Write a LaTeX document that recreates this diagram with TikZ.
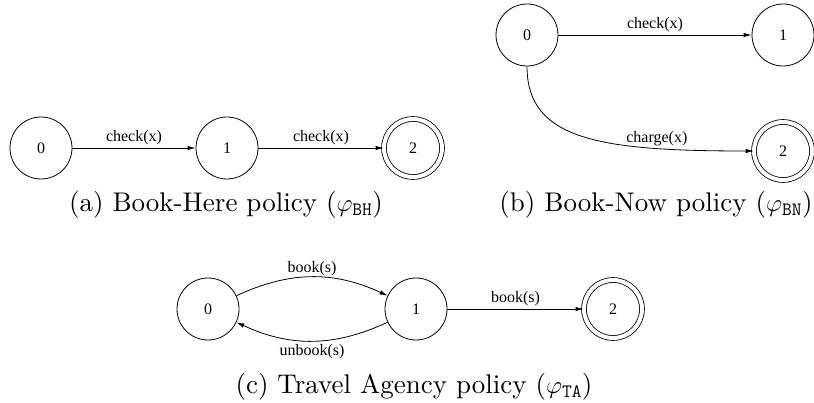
\documentclass[tikz,border=0pt]{standalone}
\usepackage{fontspec}
\newfontfamily\labfont{Liberation Serif}
\newfontfamily\capfont{lmroman10-regular.otf}
\usetikzlibrary{arrows.meta}
\tikzset{
  state/.style={circle,draw,line width=0.8pt,minimum size=62pt,inner sep=0pt,font=\labfont\fontsize{16}{18}\selectfont},
  accept/.style={state,double,double distance=4pt,minimum size=58pt},
  edge/.style={draw,line width=0.8pt,-{Latex[length=8pt,width=4.5pt]}},
  elab/.style={font=\labfont\fontsize{16}{18}\selectfont,inner sep=2pt},
  captext/.style={font=\capfont\fontsize{27}{30}\selectfont,inner sep=0pt}
}
\begin{document}
\begin{tikzpicture}[x=1pt,y=-1pt]
\useasboundingbox (0,0) rectangle (814,403);
% (a)
\node[state] (a0) at (41,148) {0};
\node[state] (a1) at (227,148) {1};
\node[accept] (a2) at (413,148) {2};
\draw[edge] (a0) -- node[elab,above=1pt] {check(x)} (a1);
\draw[edge] (a1) -- node[elab,above=1pt] {check(x)} (a2);
\node[captext] (capa) at (226,205) {(a) Book-Here policy ($\varphi_{\mathtt{BH}}$)};
% (b)
\node[state] (b0) at (527,35) {0};
\node[state] (b1) at (783,35) {1};
\node[accept] (b2) at (783,151) {2};
\draw[edge] (b0) -- node[elab,above=1pt] {check(x)} (b1);
\draw[edge] (b0.south) .. controls (527,140) and (600,151) .. node[elab,pos=0.76,above=0pt] {charge(x)} (b2.west);
\node[captext] (capb) at (656,205) {(b) Book-Now policy ($\varphi_{\mathtt{BN}}$)};
% (c)
\node[state] (c0) at (208,309) {0};
\node[state] (c1) at (416,309) {1};
\node[accept] (c2) at (613,309) {2};
\draw[edge] (c0) to[bend left=25] node[elab,above=-1pt] {book(s)} (c1);
\draw[edge] (c1) to[bend left=25] node[elab,below=1pt] {unbook(s)} (c0);
\draw[edge] (c1) -- node[elab,above=1pt] {book(s)} (c2);
\node[captext] (capc) at (414,387) {(c) Travel Agency policy ($\varphi_{\mathtt{TA}}$)};
\end{tikzpicture}
\end{document}
